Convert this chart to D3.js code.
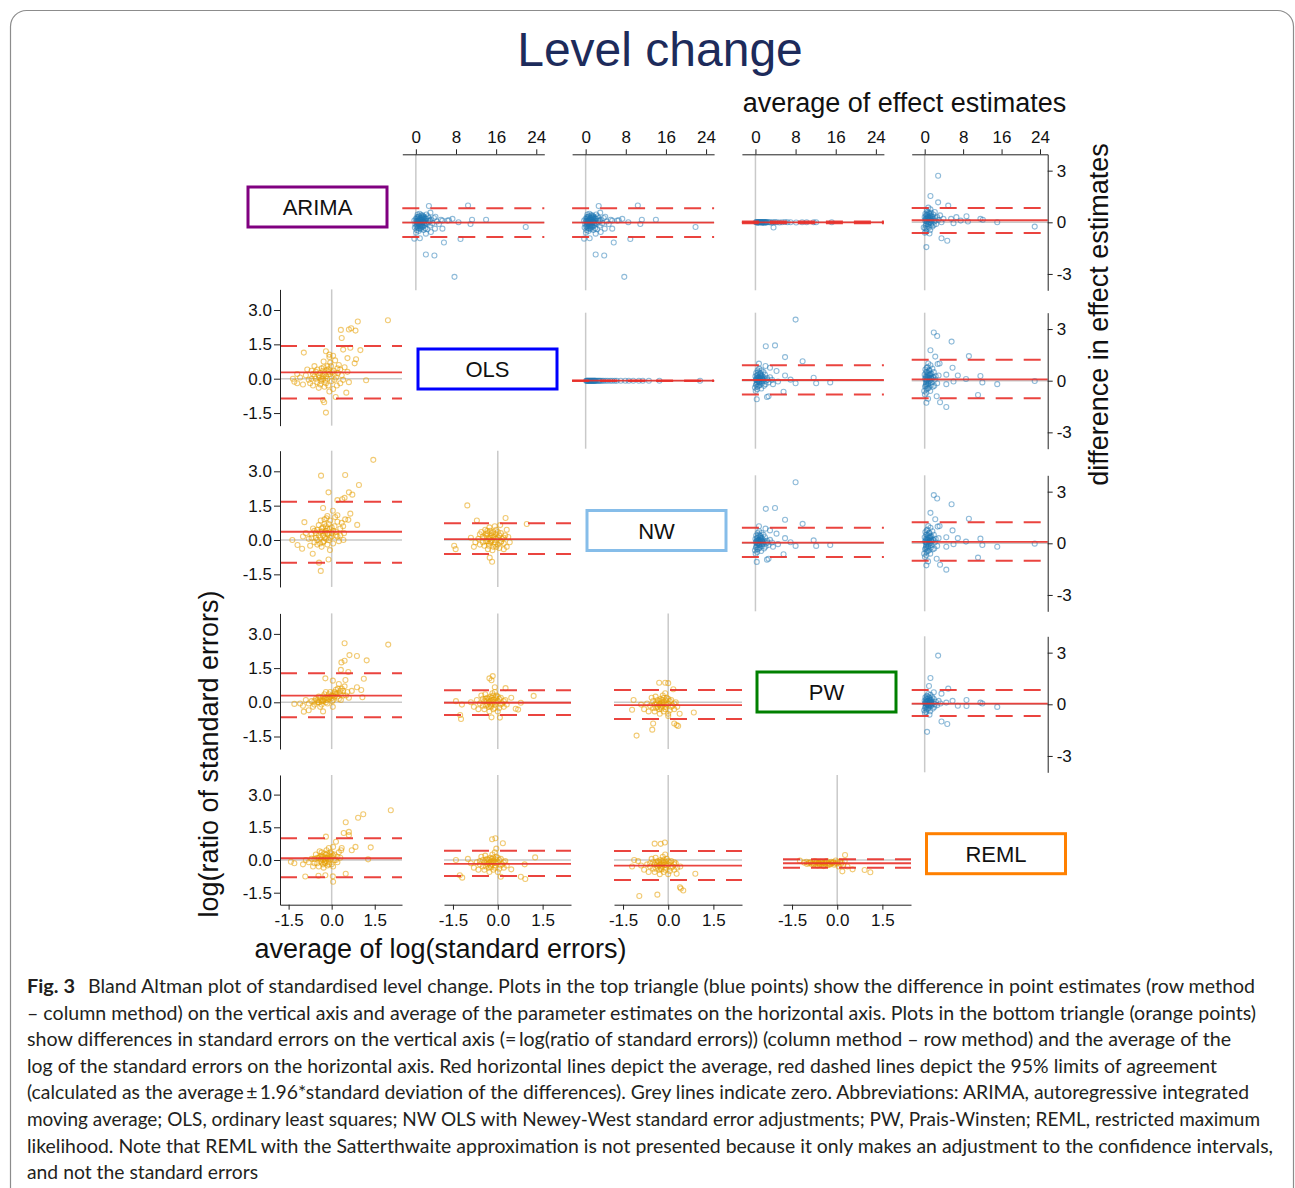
<!DOCTYPE html>
<html>
<head>
<meta charset="utf-8">
<script src="https://cdn.jsdelivr.net/npm/d3@7"></script>
<style>
  body { margin: 0; background: #fff; }
  svg { display: block; }
</style>
</head>
<body>
<script>
const width = 1295;
const height = 1188;

const methods = ['ARIMA', 'OLS', 'NW', 'PW', 'REML'];
const methodColors = ['#800080', '#0000ff', '#86bde9', '#008000', '#ff8000'];
const effectTicks = [0, 8, 16, 24];
const diffTicks = [-3, 0, 3];
const logTicks = [-1.5, 0, 1.5];
const ratioTicks = [-1.5, 0, 1.5, 3];

// upper triangle points: [average of effect estimates, difference]
const ptsArimaOls = [
  [0.1,0.05],[0.2,-0.1],[0.3,0.2],[0.4,-0.3],[0.5,0.1],[0.6,0.35],[0.7,-0.2],[0.8,0.0],[0.9,0.25],[1.0,-0.4],
  [1.1,0.15],[1.2,-0.05],[1.3,0.4],[1.4,-0.25],[1.5,0.05],[1.6,0.3],[1.7,-0.15],[1.8,0.1],[1.9,-0.35],[2.0,0.2],
  [2.2,-0.1],[2.4,0.35],[2.6,0.0],[2.8,-0.2],[3.0,0.15],[3.3,-0.05],[3.6,0.25],[0.15,-0.45],[0.35,0.45],[0.55,-0.5],
  [0.75,0.5],[0.95,-0.15],[1.15,0.3],[1.35,0.05],[1.55,-0.45],[0.25,0.3],[0.45,-0.05],[0.65,0.15],[0.85,-0.35],[1.05,0.4],
  [1.25,-0.25],[1.45,0.2],[1.65,0.0],[2.1,0.45],[2.3,-0.4],[2.5,0.1],[4.2,0.05],[4.6,-0.1],[5.0,0.15],[0.05,-0.6],
  [-0.2,-0.3],[-0.3,0.1],
  [0.2,0.1],[0.4,0.0],[0.6,-0.1],[0.8,0.15],[1.0,0.05],[1.2,0.2],[1.4,0.1],[1.6,-0.05],[1.8,0.25],[0.3,-0.2],
  [0.5,0.3],[0.7,0.1],[0.9,-0.2],[1.1,-0.3],[1.3,0.25],[0.1,-0.25],[0.0,0.2],[-0.1,-0.1],[2.0,-0.05],[2.5,0.25],
  [0.35,0.05],[0.65,-0.35],[1.5,0.35],[2.8,0.1],
  [2.6,0.95],[2.9,0.56],[3.9,0.32],[10.4,0.98],[7.3,0.2],[11.2,0.15],[14,0.15],[21.9,-0.27],[10.9,-0.1],[5.6,-1.17],
  [8.9,-0.97],[2.0,-1.87],[3.7,-1.93],[7.7,-3.17],[-0.3,-0.95],[0.8,-0.93],[6.6,0.12],[8.5,0.0],[5.3,-0.37],[3.8,-0.37],
  [2.0,-0.66],[3.0,-0.56],[5.3,0.1],[6.3,0.1]
];
const ptsArimaPw = [
  [0.1,0],[0.3,0.01],[0.5,-0.01],[0.7,0],[0.9,0.02],[1.1,0],[1.3,-0.02],[1.5,0],[1.7,0.01],[1.9,0],
  [2.1,-0.01],[2.3,0],[2.6,0.01],[2.9,0],[3.2,-0.02],[3.5,0],[3.6,-0.3],[3.9,0.01],[4.3,0],[4.8,-0.01],
  [5.3,0],[5.9,0.02],[6.4,0],[7.0,0],[8.1,-0.01],[9.3,0],[10.2,0],[11.6,0],[12.1,0],[15.2,0],
  [0.2,0.02],[0.4,-0.02],[0.6,0.01],[0.8,-0.01],[1.0,0.01],[1.2,0.02],[1.4,-0.01],[1.6,0.01],[1.8,-0.02],[2.0,0.01],[2.2,0]
];
const ptsArimaReml = [
  [0.1,0.1],[0.2,-0.2],[0.3,0.4],[0.4,-0.4],[0.5,0.2],[0.6,0.6],[0.7,-0.1],[0.8,0.3],[0.9,-0.3],[1.0,0.5],
  [1.1,0.0],[1.2,0.75],[1.3,-0.15],[1.4,0.35],[1.5,0.1],[1.6,-0.25],[1.8,0.45],[2.0,0.05],[2.2,0.25],[2.4,-0.1],
  [2.6,0.3],[2.9,0.15],[3.2,0.4],[3.5,0.0],[3.9,0.2],[0.15,0.5],[0.35,-0.55],[0.55,0.05],[0.75,0.85],[0.95,0.15],
  [1.15,-0.45],[1.35,0.55],[0.25,0.2],[0.45,0.7],[0.65,-0.25],[0.85,0.0],[1.05,0.25],[1.25,0.1],[1.7,0.2],[2.1,0.6],
  [-0.2,-0.3],[0.05,-0.6],
  [0.2,0.2],[0.4,0.05],[0.6,0.3],[0.8,-0.1],[1.0,0.15],[1.2,0.35],[1.4,-0.05],[0.3,-0.1],[0.5,0.45],[0.7,0.25],
  [0.9,0.55],[1.1,0.4],[1.3,0.2],[0.1,-0.35],[0.0,0.3],[1.6,0.3],[2.3,0.1],[0.35,0.1],[0.65,0.4],[1.9,-0.15],
  [2.8,2.7],[1.2,1.53],[2.8,1.16],[4.9,0.97],[0.35,-1.44],[3.5,-0.93],[4.7,-1.07],[22.9,-0.25],[15.1,0],[11.6,0.2],
  [8.7,0.35],[6.6,0.3],[1.0,-0.65],[9.0,0.05],[7.5,0.1],[5.5,0.2],[12.1,0.15],[6.0,-0.05]
];
const ptsOlsNw = [
  [0.1,0],[0.2,0],[0.3,0],[0.4,0],[0.5,0],[0.6,0],[0.7,0],[0.8,0],[0.9,0],[1.0,0],
  [1.1,0],[1.2,0],[1.3,0],[1.4,0],[1.5,0],[1.6,0],[1.7,0],[1.8,0],[1.9,0],[2.0,0],
  [2.2,0],[2.4,0],[2.6,0],[2.8,0],[3.0,0],[3.3,0],[3.6,0],[4.0,0],[4.4,0],[4.9,0],
  [5.3,0],[5.8,0],[6.2,0],[7.0,0],[7.9,0],[8.6,0],[9.5,0],[10.6,0],[11.4,0],[12.6,0],[14.7,0],[22.8,0]
];
const ptsOlsPw = [
  [0.1,0.05],[0.2,-0.2],[0.3,0.3],[0.4,-0.35],[0.5,0.15],[0.6,0.5],[0.7,-0.1],[0.8,0.2],[0.9,-0.25],[1.0,0.4],
  [1.1,0.0],[1.2,0.6],[1.3,-0.15],[1.4,0.25],[1.5,0.05],[1.7,-0.3],[1.9,0.35],[2.1,0.0],[2.3,0.15],[2.6,-0.1],
  [2.9,0.2],[3.3,0.05],[0.15,0.45],[0.35,-0.5],[0.55,0.0],[0.75,0.7],[0.95,0.1],[1.15,-0.45],[0.25,0.15],[0.45,0.6],
  [0.65,-0.3],[0.85,-0.05],[1.05,0.2],[1.25,0.1],[-0.1,-0.4],[0.05,-0.6],[1.6,0.5],[2.0,-0.2],
  [0.2,0.1],[0.4,0.0],[0.6,0.2],[0.8,-0.1],[1.0,0.1],[1.2,0.3],[1.4,-0.05],[0.3,-0.1],[0.5,0.35],[0.7,0.15],
  [0.9,0.45],[1.1,0.3],[1.3,0.15],[0.1,-0.25],[0.0,0.25],[1.7,0.15],[2.4,0.05],[0.35,0.05],
  [8.0,3.55],[2.06,2.0],[3.9,2.05],[5.9,1.37],[9.4,1.13],[0.7,0.99],[0.26,-1.08],[2.3,-0.95],[2.6,-0.9],[5.6,-0.64],
  [11.6,0.17],[12.1,-0.15],[14.9,-0.1],[8.0,-0.15],[7.0,0.06],[5.9,0.3],[4.2,0.56],[2.9,0.75],[2.0,0.85],[4.5,-0.05],[3.5,-0.2]
];
const ptsOlsReml = [
  [0.1,0.1],[0.2,-0.3],[0.3,0.5],[0.4,-0.5],[0.5,0.2],[0.6,0.8],[0.7,-0.2],[0.8,0.35],[0.9,-0.4],[1.0,0.6],
  [1.1,0.0],[1.2,0.9],[1.3,-0.25],[1.4,0.4],[1.5,0.1],[1.7,-0.35],[1.9,0.5],[2.1,0.05],[2.3,0.25],[2.6,-0.15],
  [2.9,0.3],[0.15,0.65],[0.35,-0.7],[0.55,0.05],[0.75,1.0],[0.95,0.15],[1.15,-0.6],[0.25,0.25],[0.45,0.75],[0.65,-0.45],
  [0.85,-0.05],[1.05,0.3],[1.25,0.15],[-0.1,-0.6],[0.05,-0.8],[1.6,0.7],[2.0,-0.3],[0.3,-0.1],[0.7,0.45],[1.8,0.2],
  [0.2,0.15],[0.4,0.0],[0.6,0.3],[0.8,-0.15],[1.0,0.1],[1.2,0.4],[1.4,-0.1],[0.3,-0.2],[0.5,0.5],[0.7,0.2],
  [0.9,0.6],[1.1,0.35],[1.3,0.2],[0.1,-0.35],[0.0,0.35],[1.7,0.2],[0.35,0.05],[0.55,-0.3],
  [1.9,2.8],[2.6,2.6],[5.6,2.27],[1.2,1.77],[2.2,1.4],[9.2,1.43],[5.8,0.75],[2.7,0.97],[3.1,1.0],[0.35,-1.28],
  [0.7,-1.05],[2.5,-0.9],[3.2,-1.25],[4.5,-1.53],[11.1,-0.83],[11.6,0.27],[12.0,-0.1],[15.1,-0.2],[22.9,-0.02],[8.6,0.1],
  [6.9,0.3],[6.0,-0.05],[4.5,0.35],[4.5,-0.2]
];
const ptsPwReml = [
  [0.1,0.05],[0.2,-0.15],[0.3,0.3],[0.4,-0.3],[0.5,0.15],[0.6,0.45],[0.7,-0.05],[0.8,0.2],[0.9,-0.2],[1.0,0.35],
  [1.1,0.0],[1.2,0.55],[1.3,-0.1],[1.4,0.25],[1.5,0.05],[1.7,-0.25],[1.9,0.3],[2.1,0.0],[2.3,0.15],[2.6,-0.05],
  [2.9,0.2],[3.3,0.05],[0.15,0.4],[0.35,-0.45],[0.55,0.0],[0.75,0.6],[0.95,0.1],[1.15,-0.4],[0.25,0.15],[0.45,0.5],
  [0.65,-0.25],[0.85,-0.05],[1.05,0.2],[1.25,0.1],[-0.1,-0.35],[0.05,-0.5],[1.6,0.4],[2.0,-0.15],
  [0.2,0.1],[0.4,0.0],[0.6,0.2],[0.8,-0.1],[1.0,0.1],[1.2,0.25],[1.4,-0.05],[0.3,-0.1],[0.5,0.3],[0.7,0.15],
  [0.9,0.4],[1.1,0.25],[1.3,0.15],[0.1,-0.2],[0.0,0.2],[1.7,0.1],[0.35,0.05],
  [2.8,2.83],[1.2,1.53],[0.9,1.06],[1.9,0.7],[4.9,0.91],[3.5,0.62],[0.5,-1.6],[3.5,-1.0],[4.7,-1.14],[1.0,-0.6],
  [15.1,-0.15],[11.6,0.1],[12.0,0.05],[8.7,0.25],[8.7,-0.1],[6.9,-0.08],[5.8,0.2],[4.5,0.1]
];

// lower triangle points: [average of log(SE), log(ratio of SE)]
const ptsOlsArima = [
  [-0.2,0.1],[-0.1,0.3],[0.0,-0.1],[0.1,0.2],[-0.3,0.0],[-0.4,0.25],[-0.5,-0.15],[-0.6,0.1],[-0.7,0.35],[-0.8,-0.05],
  [-0.9,0.15],[-1.0,-0.25],[-1.1,0.05],[0.2,0.45],[0.3,-0.2],[0.25,0.6],[-0.15,0.55],[-0.25,-0.35],[-0.35,0.45],[-0.45,-0.4],
  [-0.55,0.3],[-0.65,-0.3],[-0.05,0.7],[0.05,-0.45],[0.15,0.05],[-0.12,0.18],[-0.22,-0.08],[-0.32,0.12],[-0.42,0.05],[-0.18,0.38],
  [0.08,0.35],[0.35,0.15],[0.45,0.5],[0.4,-0.05],[-0.75,-0.2],[-1.2,0.2],[-0.28,0.75],[-0.08,0.95],[0.12,0.8],[0.18,-0.3],
  [-0.38,-0.1],[-0.6,0.55],[-0.85,0.4],[0.55,0.3],[0.6,-0.15],
  [-0.15,0.0],[-0.05,0.2],[-0.25,0.22],[-0.35,-0.02],[-0.45,0.15],[-0.1,0.42],[0.02,0.28],[-0.3,0.35],[-0.2,-0.2],[-0.4,-0.25],
  [0.1,-0.05],[-0.55,0.0],[-0.65,0.2],[0.22,0.25],[-0.02,0.55],[-0.5,0.4],[-0.7,0.0],[0.3,0.4],[-0.12,-0.3],[-0.28,0.5],
  [1.96,2.55],[0.91,2.5],[0.32,2.13],[0.6,2.15],[0.68,2.2],[0.83,2.1],[0.35,1.78],[1.0,1.25],[0.65,1.35],[0.4,1.27],
  [-0.97,1.14],[0.8,0.67],[0.85,0.85],[0.55,0.9],[1.2,-0.07],[0.51,-0.61],[0.14,-0.8],[-0.26,-1.03],[-0.2,-1.48],[-0.3,-0.93],
  [-0.08,-0.56],[-1.3,-0.13],[-1.35,0],[-1.2,-0.2],[-0.08,1.05],[-0.2,1.2],[0.05,1.0]
];
const ptsNwArima = [
  [-0.3,0.2],[-0.2,0.4],[-0.1,0.0],[0.0,0.3],[-0.4,0.1],[-0.5,0.45],[-0.6,-0.1],[-0.7,0.25],[-0.8,0.05],[0.1,0.6],
  [0.2,0.15],[0.3,0.5],[-0.25,0.7],[-0.15,-0.2],[-0.35,-0.3],[-0.45,0.65],[-0.55,0.3],[-0.05,0.85],[0.05,-0.15],[-0.2,0.05],
  [-0.3,0.55],[-0.4,-0.15],[-0.12,0.25],[-0.22,0.32],[-0.33,0.38],[-0.08,0.48],[0.15,0.35],[0.25,-0.05],[-0.65,0.5],[-0.9,0.3],
  [-1.0,0.15],[-0.18,0.95],[0.35,0.75],[0.12,1.0],[-0.28,-0.05],[-0.5,0.0],[0.0,0.15],[-0.38,0.85],[-0.75,-0.25],[0.3,0.2],
  [-0.25,0.1],[-0.15,0.3],[-0.35,0.5],[-0.45,0.2],[-0.05,0.1],[0.05,0.4],[-0.2,0.6],[-0.3,-0.1],[-0.55,0.1],[-0.1,0.7],
  [0.15,0.2],[-0.4,0.35],[-0.6,0.4],[0.2,0.8],[-0.15,0.5],[-0.5,-0.2],[0.0,0.55],[-0.25,0.9],[0.4,0.6],[-0.7,0.1],
  [1.45,3.5],[-0.37,2.81],[0.47,2.84],[0.95,2.4],[-0.11,2.08],[0.6,2.08],[0.72,1.98],[0.45,1.84],[0.2,1.74],[0.37,1.78],
  [0.65,1.15],[0.47,0.9],[0.58,0.88],[0.89,0.66],[0.2,1.08],[0.04,1.28],[-0.15,1.05],[-0.3,1.4],[-0.38,-1.35],[-0.44,-0.99],
  [-0.11,-0.85],[-1.19,-0.22],[-1.37,0],[-1.03,-0.38],[0.41,0],[0.43,0.3],[-0.66,-0.6],[-0.06,-0.44],[-0.95,0.78]
];
const ptsNwOls = [
  [-0.3,0.05],[-0.2,0.2],[-0.1,-0.1],[0.0,0.1],[-0.4,-0.05],[-0.5,0.15],[-0.6,-0.2],[0.1,0.3],[0.2,-0.15],[-0.25,0.4],
  [-0.15,-0.3],[-0.35,0.3],[-0.45,-0.25],[-0.05,0.45],[0.05,-0.35],[-0.2,0.0],[-0.3,-0.15],[-0.12,0.12],[-0.22,-0.05],[-0.38,0.18],
  [-0.08,0.25],[0.15,0.05],[0.25,0.2],[-0.55,0.35],[-0.65,0.05],[-0.75,-0.1],[-0.28,0.55],[-0.18,-0.45],[0.0,-0.2],[-0.42,0.45],
  [0.3,-0.3],[-0.1,0.6],[0.08,0.65],[-0.33,-0.4],[-0.6,0.25],[0.12,-0.05],
  [-0.25,0.1],[-0.15,0.15],[-0.35,-0.05],[-0.05,0.05],[-0.45,0.1],[0.05,0.2],[-0.2,0.3],[-0.3,-0.25],[-0.1,-0.2],[0.1,-0.1],
  [-0.4,0.25],[-0.5,-0.1],[-0.15,0.35],[0.0,0.35],[-0.25,-0.1],[0.2,0.1],[-0.35,0.4],[-0.05,-0.3],
  [-1.02,1.51],[0.97,0.7],[0.26,0.96],[-0.19,-0.95],[-0.27,-0.77],[-1.46,-0.25],[-1.41,-0.4],[-0.7,0.85],[0.3,0.45],[0.35,0.13],
  [0.2,-0.4],[0.4,-0.1],[-0.9,0.1],[-0.8,-0.3]
];
const ptsPwArima = [
  [-0.5,0.0],[-0.4,0.1],[-0.3,0.05],[-0.2,0.2],[-0.1,0.15],[0.0,0.3],[0.1,0.25],[0.2,0.4],[0.3,0.35],[0.4,0.5],
  [-0.6,-0.1],[-0.7,0.05],[-0.8,-0.05],[-0.45,0.25],[-0.35,-0.1],[-0.25,0.35],[-0.15,-0.05],[-0.05,0.45],[0.05,0.1],[0.15,0.55],
  [0.25,0.15],[0.35,0.6],[0.5,0.3],[0.55,0.45],[-0.55,0.15],[-0.65,-0.2],[-0.9,0.1],[-1.0,-0.15],[-0.3,0.25],[-0.18,0.1],
  [-0.08,0.22],[0.02,0.05],[0.12,0.4],[0.22,0.6],[0.32,0.1],[0.45,0.7],[-0.4,-0.2],[-0.2,0.45],[0.6,0.2],[0.7,0.5],
  [-1.1,-0.05],[0.25,0.8],
  [-0.35,0.05],[-0.25,0.15],[-0.15,0.2],[-0.05,0.25],[0.05,0.3],[0.15,0.35],[-0.45,0.0],[-0.3,0.1],[-0.1,0.35],[0.1,0.45],
  [-0.2,0.0],[0.0,0.18],[0.2,0.25],[-0.5,0.1],[-0.4,0.2],[0.3,0.5],[-0.6,0.05],[0.4,0.3],
  [0.45,2.59],[1.97,2.53],[0.62,2.07],[0.88,2.03],[1.22,1.84],[0.45,1.82],[0.34,1.75],[0.32,1.42],[0.58,1.33],[1.12,1.03],
  [0.88,0.66],[1.03,0.54],[1.07,0.22],[0.48,0.98],[-0.22,1.05],[0.04,0.95],[-0.97,-0.41],[-1.3,-0.07],[-0.8,-0.35],[-0.3,-0.4],[0.04,-0.2]
];
const ptsPwOls = [
  [-0.3,0.0],[-0.2,0.1],[-0.1,-0.1],[0.0,0.05],[-0.4,-0.15],[-0.5,0.15],[-0.6,-0.05],[0.1,0.2],[0.2,-0.2],[-0.25,0.25],
  [-0.15,-0.3],[-0.35,0.2],[-0.45,-0.3],[-0.05,0.3],[0.05,-0.25],[-0.2,-0.05],[-0.3,0.15],[-0.12,0.02],[-0.22,-0.18],[-0.38,0.05],
  [-0.08,0.18],[0.15,-0.05],[0.25,0.1],[-0.55,0.3],[-0.7,0.1],[-0.8,-0.2],[-0.28,-0.4],[-0.18,0.4],[0.0,-0.4],[-0.42,0.35],
  [-0.9,0.0],[-0.65,-0.3],[0.3,-0.1],[-0.1,0.45],
  [-0.25,0.05],[-0.15,0.1],[-0.35,-0.1],[-0.05,0.0],[-0.45,0.05],[0.05,0.15],[-0.2,0.2],[-0.3,-0.2],[-0.1,-0.25],[0.1,-0.1],
  [-0.4,0.15],[-0.5,-0.15],[-0.15,0.3],[0.0,0.25],[-0.25,-0.1],[0.2,0.05],
  [-0.28,1.05],[-0.17,1.15],[-0.21,0.97],[-0.1,0.66],[0.26,0.62],[-1.23,-0.73],[-1.26,-0.56],[-0.21,-0.66],[0.07,-0.67],[0.6,-0.28],
  [0.68,-0.32],[1.2,0.28],[0.77,-0.02],[-1.4,0.05],[-1.2,-0.1],[0.45,0.2]
];
const ptsPwNw = [
  [-0.3,-0.1],[-0.2,0.0],[-0.1,-0.2],[0.0,-0.05],[-0.4,-0.25],[-0.5,0.05],[-0.6,-0.15],[0.1,0.1],[0.2,-0.3],[-0.25,0.15],
  [-0.15,-0.4],[-0.35,0.1],[-0.45,-0.4],[-0.05,0.2],[0.05,-0.35],[-0.2,-0.15],[-0.3,0.05],[-0.12,-0.08],[-0.22,-0.28],[-0.38,-0.05],
  [-0.08,0.08],[0.15,-0.15],[0.25,0.0],[-0.55,0.2],[-0.7,-0.05],[-0.8,-0.3],[-0.28,-0.5],[-0.18,0.3],[0.0,-0.5],[-0.42,0.25],
  [-0.9,-0.1],[-0.65,-0.4],[0.3,-0.2],[-0.1,0.4],
  [-0.25,-0.05],[-0.15,0.0],[-0.35,-0.2],[-0.05,-0.1],[-0.45,-0.1],[0.05,0.05],[-0.2,0.1],[-0.3,-0.3],[-0.1,-0.3],[0.1,-0.2],
  [-0.4,0.0],[-0.5,-0.25],[-0.15,0.2],[0.0,0.15],[-0.25,-0.2],[0.2,-0.05],
  [-1.05,-1.46],[-0.53,-1.2],[-0.5,-0.93],[-1.15,0.1],[-1.2,-0.33],[-0.3,0.86],[0.0,0.84],[-0.1,0.86],[0.17,0.57],[0.85,-0.45],
  [0.28,-1.0],[0.33,-1.04],[0.2,-0.93],[0.38,-0.5],[0.0,-0.6]
];
const ptsRemlArima = [
  [-0.3,0.0],[-0.2,0.1],[-0.1,-0.1],[0.0,0.15],[-0.4,-0.05],[-0.5,0.1],[-0.6,-0.15],[0.1,0.25],[0.2,-0.1],[-0.25,0.3],
  [-0.15,-0.25],[-0.35,0.2],[-0.45,-0.3],[-0.05,0.35],[0.05,-0.3],[-0.2,-0.05],[-0.3,0.15],[-0.12,0.05],[-0.22,-0.15],[-0.38,0.05],
  [-0.08,0.2],[0.15,0.0],[0.25,0.35],[-0.55,0.25],[-0.7,0.05],[-0.8,-0.1],[-0.9,0.0],[-1.0,-0.2],[-0.28,-0.35],[-0.18,0.45],
  [0.0,-0.2],[-0.42,0.4],[0.3,0.1],[-0.1,0.55],[-0.65,-0.3],[0.35,0.55],
  [-0.25,0.05],[-0.15,0.1],[-0.35,-0.1],[-0.05,0.05],[-0.45,0.1],[0.05,0.2],[-0.2,0.25],[-0.3,-0.2],[-0.1,-0.2],[0.1,0.0],
  [-0.4,0.15],[-0.5,-0.15],[-0.15,0.3],[0.0,0.3],[-0.25,-0.1],[0.2,0.15],[-0.6,0.05],[-0.35,0.35],
  [2.06,2.28],[1.1,2.1],[0.92,1.94],[0.49,1.73],[0.42,1.24],[0.6,1.29],[0.6,1.14],[1.36,0.58],[1.27,0.03],[0.05,-1.0],
  [0.04,-0.75],[0.49,-0.63],[-0.22,-0.7],[-0.46,-0.72],[-0.92,-0.76],[-1.42,-0.08],[-1.3,-0.15],[0.05,0.6],[0.33,0.45],[0.7,0.45],
  [0.83,0.6],[-0.2,1.07],[0.15,0.84]
];
const ptsRemlOls = [
  [-0.3,-0.15],[-0.2,-0.05],[-0.1,-0.25],[0.0,-0.1],[-0.4,-0.3],[-0.5,0.0],[-0.6,-0.2],[0.1,0.05],[0.2,-0.35],[-0.25,0.1],
  [-0.15,-0.45],[-0.35,0.05],[-0.45,-0.45],[-0.05,0.15],[0.05,-0.4],[-0.2,-0.2],[-0.3,0.0],[-0.12,-0.12],[-0.22,-0.32],[-0.38,-0.1],
  [-0.08,0.02],[0.15,-0.2],[0.25,-0.05],[-0.55,0.15],[-0.7,-0.1],[-0.8,-0.35],[-0.28,-0.55],[-0.18,0.25],[0.0,-0.55],[-0.42,0.2],
  [-0.9,-0.15],[-1.0,0.05],[-0.65,-0.45],[0.3,-0.25],[-0.1,0.35],
  [-0.25,-0.1],[-0.15,-0.05],[-0.35,-0.2],[-0.05,-0.15],[-0.45,-0.1],[0.05,0.0],[-0.2,0.05],[-0.3,-0.35],[-0.1,-0.35],[0.1,-0.25],
  [-0.4,0.0],[-0.5,-0.3],[-0.15,0.1],[0.0,0.1],[-0.25,-0.25],[0.2,-0.1],[-0.6,-0.05],
  [-0.19,0.95],[-0.08,1.0],[0.17,0.77],[-0.05,0.52],[1.25,0.12],[0.92,-0.87],[0.77,-0.77],[-1.19,-0.81],[-1.27,-0.7],[0.1,-0.77],
  [0.45,-0.43],[0.9,-0.2],[-1.4,0.0]
];
const ptsRemlNw = [
  [-0.3,-0.25],[-0.2,-0.15],[-0.1,-0.35],[0.0,-0.2],[-0.4,-0.4],[-0.5,-0.1],[-0.6,-0.3],[0.1,-0.05],[0.2,-0.45],[-0.25,0.0],
  [-0.15,-0.55],[-0.35,-0.05],[-0.45,-0.55],[-0.05,0.05],[0.05,-0.5],[-0.2,-0.3],[-0.3,-0.1],[-0.12,-0.22],[-0.22,-0.42],[-0.38,-0.2],
  [-0.08,-0.08],[0.15,-0.3],[0.25,-0.15],[-0.55,0.05],[-0.7,-0.2],[-0.8,-0.45],[-0.28,-0.65],[-0.18,0.15],[0.0,-0.65],[-0.42,0.1],
  [-0.9,-0.25],[-1.0,-0.05],[-0.65,-0.55],[0.3,-0.35],[-0.1,0.25],[-1.2,-0.3],
  [-0.25,-0.2],[-0.15,-0.1],[-0.35,-0.3],[-0.05,-0.25],[-0.45,-0.2],[0.05,-0.1],[-0.2,-0.05],[-0.3,-0.45],[-0.1,-0.45],[0.1,-0.35],
  [-0.4,-0.1],[-0.5,-0.4],[-0.15,0.0],[0.0,-0.05],[-0.25,-0.35],[0.2,-0.2],[-0.6,-0.15],
  [-0.96,-1.65],[-0.36,-1.59],[-1.13,0.0],[-0.45,0.75],[-0.25,0.74],[-0.11,0.8],[0.39,-1.25],[0.42,-1.31],[0.5,-1.4],[0.9,-0.63],
  [0.28,-0.63],[0.4,-0.3],[0.2,-0.1]
];
const ptsRemlPw = [
  [-0.9,-0.1],[-0.8,-0.15],[-0.7,-0.12],[-0.6,-0.18],[-0.5,-0.1],[-0.4,-0.2],[-0.3,-0.14],[-0.2,-0.08],[-0.1,-0.22],[0.0,-0.16],
  [0.1,-0.06],[0.2,-0.25],[-0.85,-0.2],[-0.75,-0.05],[-0.65,-0.25],[-0.55,-0.08],[-0.45,-0.28],[-0.35,-0.05],[-0.25,-0.22],[-0.15,-0.12],
  [-0.05,-0.02],[0.05,-0.3],[0.15,-0.12],[-0.62,-0.14],[-0.42,-0.12],[-0.22,-0.18],[-0.32,-0.24],[-0.12,-0.1],[-0.52,-0.2],[-0.72,-0.18],
  [0.25,-0.05],[-1.1,-0.12],
  [-0.95,-0.14],[-0.88,-0.12],[-0.78,-0.2],[-0.68,-0.08],[-0.58,-0.22],[-0.48,-0.15],[-0.38,-0.1],[-0.28,-0.18],[-0.18,-0.14],[-0.08,-0.16],
  [0.02,-0.1],[0.12,-0.2],[-1.0,-0.18],[-0.6,-0.12],[-0.4,-0.16],
  [0.26,0.23],[1.1,-0.56],[0.91,-0.46],[0.51,-0.43],[0.34,-0.3],[0.17,-0.52],[-1.24,-0.03],[-1.02,-0.08]
];

// [row, col, points, mean difference, lower limit, upper limit]
const upperCells = [
  [0, 1, ptsArimaOls, -0.02, -0.85, 0.82],
  [0, 2, ptsArimaOls, -0.02, -0.85, 0.82],
  [0, 3, ptsArimaPw, 0, -0.05, 0.05],
  [0, 4, ptsArimaReml, 0.12, -0.62, 0.83],
  [1, 2, ptsOlsNw, 0, 0, 0],
  [1, 3, ptsOlsPw, 0.04, -0.8, 0.9],
  [1, 4, ptsOlsReml, 0.08, -1.02, 1.22],
  [2, 3, ptsOlsPw, 0.04, -0.8, 0.9],
  [2, 4, ptsOlsReml, 0.08, -1.02, 1.22],
  [3, 4, ptsPwReml, 0.04, -0.68, 0.83]
];
const lowerCells = [
  [1, 0, ptsOlsArima, 0.28, -0.87, 1.43],
  [2, 0, ptsNwArima, 0.36, -0.99, 1.67],
  [2, 1, ptsNwOls, 0.04, -0.61, 0.73],
  [3, 0, ptsPwArima, 0.29, -0.66, 1.27],
  [3, 1, ptsPwOls, -0.02, -0.56, 0.53],
  [3, 2, ptsPwNw, -0.12, -0.73, 0.54],
  [4, 0, ptsRemlArima, 0.08, -0.79, 1.0],
  [4, 1, ptsRemlOls, -0.18, -0.73, 0.43],
  [4, 2, ptsRemlNw, -0.26, -0.92, 0.41],
  [4, 3, ptsRemlPw, -0.15, -0.35, 0.03]
];

const captionLines = [
  'Bland Altman plot of standardised level change. Plots in the top triangle (blue points) show the difference in point estimates (row method',
  '\u2013 column method) on the vertical axis and average of the parameter estimates on the horizontal axis. Plots in the bottom triangle (orange points)',
  'show differences in standard errors on the vertical axis (=\u2009log(ratio of standard errors)) (column method \u2013 row method) and the average of the',
  'log of the standard errors on the horizontal axis. Red horizontal lines depict the average, red dashed lines depict the 95% limits of agreement',
  '(calculated as the average\u2009\u00b1\u20091.96*standard deviation of the differences). Grey lines indicate zero. Abbreviations: ARIMA, autoregressive integrated',
  'moving average; OLS, ordinary least squares; NW OLS with Newey-West standard error adjustments; PW, Prais-Winsten; REML, restricted maximum',
  'likelihood. Note that REML with the Satterthwaite approximation is not presented because it only makes an adjustment to the confidence intervals,',
  'and not the standard errors'
];

// panel geometry
const upLeft = [0, 402.3, 572.1, 741.9, 911.7];
const upWidth = [0, 142, 142, 142, 136];
const upZero = [222.3, 380.7, 543.3, 704.3];
const upHalf = 68;
const loLeft = [280, 444, 614, 783];
const loWidth = [122, 127, 128, 128];
const loZero = [0, 378.7, 540, 702.3, 860];
const loUnit = [0, 22.9, 22.9, 22.8, 21.8];
const boxCx = [317.5, 487.5, 656.5, 826.5, 996];
const boxCy = [207, 369, 530.5, 692, 853.7];
const captionRight = [1255, 1256, 1231, 1217, 1249, 1260, 1273, 258];

const axisFont = 'Liberation Sans, Arial, Helvetica, sans-serif';
const red = '#e8302a';
const grey = '#c9c9c9';

const xUp = c => d3.scaleLinear().domain([-2.7, 25.6]).range([upLeft[c], upLeft[c] + upWidth[c]]);
const yUp = r => d3.scaleLinear().domain([-3.95, 3.95]).range([upZero[r] + upHalf, upZero[r] - upHalf]);
const xLo = c => d3.scaleLinear().domain([-1.8, 2.45]).range([loLeft[c], loLeft[c] + loWidth[c]]);
const yLo = r => d3.scaleLinear().domain([-2.05, 3.9])
  .range([loZero[r] + 2.05 * loUnit[r], loZero[r] - 3.9 * loUnit[r]]);

const svg = d3.select('body')
  .append('svg')
  .attr('width', width)
  .attr('height', height);

svg.append('rect')
  .attr('width', width).attr('height', height)
  .attr('fill', '#fff');

// page frame
svg.append('rect')
  .attr('x', 10.5).attr('y', 10.5)
  .attr('width', 1283).attr('height', 1260)
  .attr('rx', 16)
  .attr('fill', 'none')
  .attr('stroke', '#8c8c8c')
  .attr('stroke-width', 1.2);

function drawCell(x, y, pts, mean, lo, hi, colour, opacity) {
  const g = svg.append('g');
  const [x0, x1] = x.range();
  const [y0, y1] = y.range();

  g.append('line')
    .attr('x1', x(0)).attr('x2', x(0))
    .attr('y1', y0).attr('y2', y1)
    .attr('stroke', grey).attr('stroke-width', 1.5);
  g.append('line')
    .attr('x1', x0).attr('x2', x1)
    .attr('y1', y(0)).attr('y2', y(0))
    .attr('stroke', grey).attr('stroke-width', 1.5);

  g.selectAll('circle')
    .data(pts)
    .enter()
    .append('circle')
    .attr('cx', d => x(d[0]))
    .attr('cy', d => y(d[1]))
    .attr('r', 2.5)
    .attr('fill', 'none')
    .attr('stroke', colour)
    .attr('stroke-opacity', opacity)
    .attr('stroke-width', 1.1);

  g.selectAll('line.loa')
    .data([lo, hi])
    .enter()
    .append('line')
    .attr('class', 'loa')
    .attr('x1', x0).attr('x2', x1)
    .attr('y1', d => y(d)).attr('y2', d => y(d))
    .attr('stroke', red)
    .attr('stroke-opacity', 0.9)
    .attr('stroke-width', 2)
    .attr('stroke-dasharray', '17,11');

  g.append('line')
    .attr('x1', x0).attr('x2', x1)
    .attr('y1', y(mean)).attr('y2', y(mean))
    .attr('stroke', red)
    .attr('stroke-opacity', 0.9)
    .attr('stroke-width', 1.8);
}

upperCells.forEach(([r, c, pts, mean, lo, hi]) => {
  drawCell(xUp(c), yUp(r), pts, mean, lo, hi, '#1f77b4', 0.5);
});

lowerCells.forEach(([r, c, pts, mean, lo, hi]) => {
  drawCell(xLo(c), yLo(r), pts, mean, lo, hi, '#e69f00', 0.55);
});

function styleAxis(g) {
  g.attr('font-family', axisFont).attr('font-size', 17);
  g.selectAll('path, line').attr('stroke', '#222');
  g.selectAll('text').attr('fill', '#111');
}

// top axes: average of effect estimates
for (let c = 1; c <= 4; c++) {
  svg.append('g')
    .attr('transform', `translate(0,${upZero[0] - upHalf})`)
    .call(d3.axisTop(xUp(c)).tickValues(effectTicks).tickSize(5).tickSizeOuter(0).tickPadding(6))
    .call(styleAxis);
}

// right axes: difference in effect estimates
for (let r = 0; r <= 3; r++) {
  svg.append('g')
    .attr('transform', `translate(${upLeft[4] + upWidth[4]},0)`)
    .call(d3.axisRight(yUp(r)).tickValues(diffTicks).tickSize(5).tickSizeOuter(0).tickPadding(4)
      .tickFormat(d => String(d)))
    .call(styleAxis);
}

// left axes: log ratio of standard errors
for (let r = 1; r <= 4; r++) {
  svg.append('g')
    .attr('transform', `translate(${loLeft[0]},0)`)
    .call(d3.axisLeft(yLo(r)).tickValues(ratioTicks).tickSize(6).tickSizeOuter(0).tickPadding(2)
      .tickFormat(d => d.toFixed(1)))
    .call(styleAxis);
}

// bottom axes: average of log standard errors
for (let c = 0; c <= 3; c++) {
  svg.append('g')
    .attr('transform', `translate(0,${loZero[4] + 2.05 * loUnit[4]})`)
    .call(d3.axisBottom(xLo(c)).tickValues(logTicks).tickSize(5).tickSizeOuter(0).tickPadding(4)
      .tickFormat(d => d.toFixed(1)))
    .call(styleAxis);
}

// method labels on the diagonal
methods.forEach((m, i) => {
  svg.append('rect')
    .attr('x', boxCx[i] - 69.5).attr('y', boxCy[i] - 20)
    .attr('width', 139).attr('height', 40)
    .attr('fill', '#fff')
    .attr('stroke', methodColors[i])
    .attr('stroke-width', 3);
  svg.append('text')
    .attr('x', boxCx[i]).attr('y', boxCy[i] + 8)
    .attr('text-anchor', 'middle')
    .attr('font-family', axisFont)
    .attr('font-size', 22)
    .attr('fill', '#111')
    .text(m);
});

// titles
svg.append('text')
  .attr('x', 660).attr('y', 66)
  .attr('text-anchor', 'middle')
  .attr('font-family', axisFont)
  .attr('font-size', 48)
  .attr('fill', '#1d2b5b')
  .text('Level change');

svg.append('text')
  .attr('x', 904.5).attr('y', 112)
  .attr('text-anchor', 'middle')
  .attr('font-family', axisFont)
  .attr('font-size', 27)
  .attr('fill', '#111')
  .text('average of effect estimates');

svg.append('text')
  .attr('transform', 'translate(1108,314.5) rotate(-90)')
  .attr('text-anchor', 'middle')
  .attr('font-family', axisFont)
  .attr('font-size', 27)
  .attr('fill', '#111')
  .text('difference in effect estimates');

svg.append('text')
  .attr('transform', 'translate(218,754) rotate(-90)')
  .attr('text-anchor', 'middle')
  .attr('font-family', axisFont)
  .attr('font-size', 27)
  .attr('fill', '#111')
  .text('log(ratio of standard errors)');

svg.append('text')
  .attr('x', 440.5).attr('y', 958)
  .attr('text-anchor', 'middle')
  .attr('font-family', axisFont)
  .attr('font-size', 27)
  .attr('fill', '#111')
  .text('average of log(standard errors)');

// caption
const caption = svg.append('g')
  .attr('font-family', 'Lato, "Open Sans", sans-serif')
  .attr('font-size', 19)
  .attr('fill', '#231f20');

caption.append('text')
  .attr('x', 27).attr('y', 993)
  .attr('font-weight', 'bold')
  .attr('textLength', 48)
  .attr('lengthAdjust', 'spacingAndGlyphs')
  .text('Fig. 3');

captionLines.forEach((line, i) => {
  const x0 = i === 0 ? 88 : 27;
  caption.append('text')
    .attr('x', x0)
    .attr('y', 993 + i * 26.6)
    .attr('textLength', captionRight[i] - x0)
    .attr('lengthAdjust', 'spacingAndGlyphs')
    .text(line);
});
</script>
</body>
</html>
